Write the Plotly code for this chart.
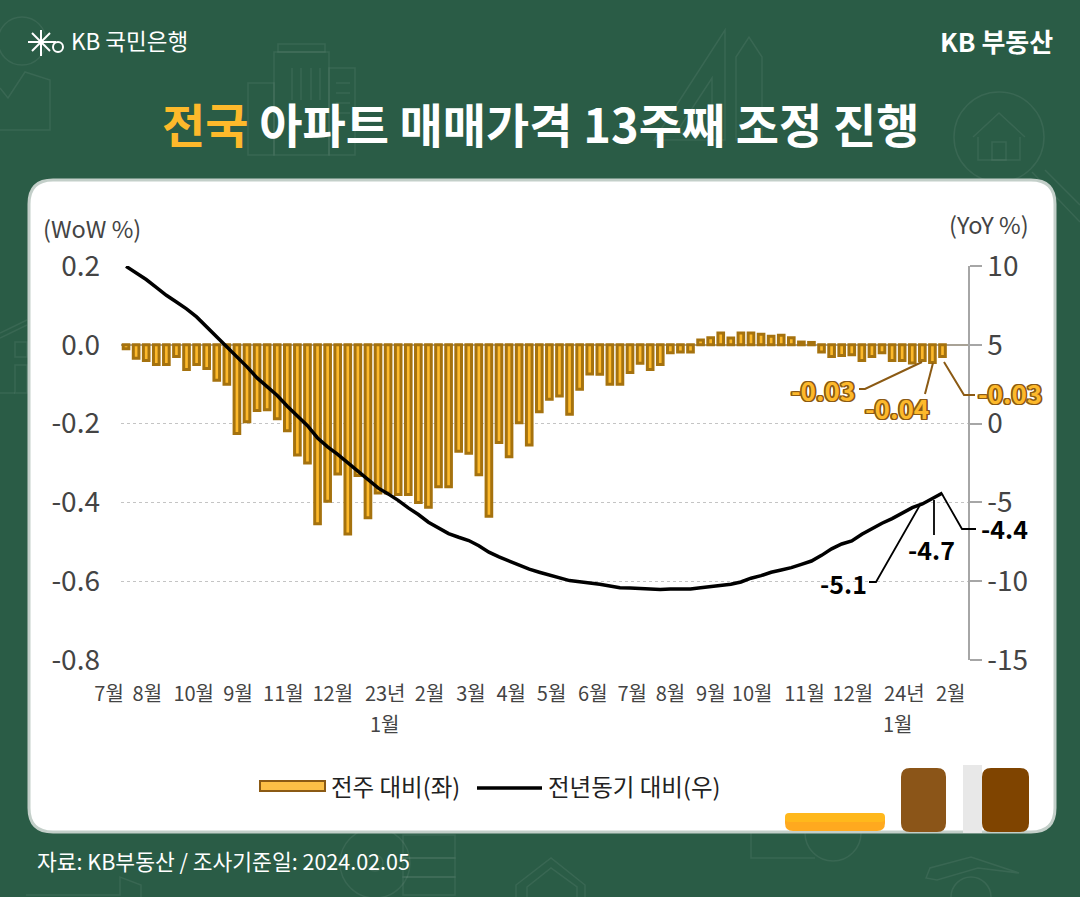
import plotly.graph_objects as go

W, H = 1080, 897
FONT = "Noto Sans CJK KR"

# weekly change (left axis)
wow = [-0.01, -0.034, -0.04, -0.05, -0.05, -0.03, -0.063, -0.05, -0.06, -0.09,
       -0.10, -0.225, -0.195, -0.167, -0.165, -0.188, -0.218, -0.28, -0.30, -0.454,
       -0.397, -0.328, -0.48, -0.332, -0.439, -0.376, -0.376, -0.38, -0.38, -0.40,
       -0.412, -0.36, -0.36, -0.27, -0.275, -0.33, -0.435, -0.248, -0.284, -0.198,
       -0.254, -0.17, -0.138, -0.13, -0.176, -0.113, -0.074, -0.075, -0.10, -0.10,
       -0.07, -0.047, -0.063, -0.05, -0.02, -0.018, -0.018, 0.012, 0.018, 0.03,
       0.017, 0.03, 0.03, 0.027, 0.022, 0.024, 0.018, 0.007, 0.006, -0.018,
       -0.03, -0.027, -0.025, -0.04, -0.03, -0.02, -0.04, -0.04, -0.046, -0.04,
       -0.045, -0.03]

# year on year change (right axis)
yoy = [9.98, 9.56, 9.14, 8.65, 8.14, 7.72, 7.28, 6.77, 6.13, 5.54,
       4.84, 4.21, 3.6, 2.9, 2.37, 1.78, 1.1, 0.47, -0.13, -0.91,
       -1.48, -1.95, -2.5, -3.0, -3.55, -4.08, -4.46, -4.87, -5.35, -5.77,
       -6.26, -6.64, -6.98, -7.21, -7.42, -7.75, -8.16, -8.46, -8.74, -8.99,
       -9.24, -9.43, -9.62, -9.79, -9.96, -10.03, -10.09, -10.19, -10.30, -10.41,
       -10.43, -10.47, -10.49, -10.53, -10.49, -10.49, -10.49, -10.41, -10.34, -10.28,
       -10.19, -10.05, -9.81, -9.65, -9.43, -9.29, -9.14, -8.93, -8.72, -8.36,
       -7.95, -7.64, -7.45, -7.02, -6.66, -6.32, -6.03, -5.69, -5.33, -5.10,
       -4.75, -4.40]

weeks = list(range(len(wow)))

month_labels = ["7월", "8월", "10월", "9월", "11월", "12월", "23년", "2월", "3월", "4월",
                "5월", "6월", "7월", "8월", "9월", "10월", "11월", "12월", "24년", "2월"]
month_weeks = [0, 3.8, 8.4, 12.8, 17.3, 22.2, 27.4, 31.8, 35.9, 39.9,
               43.9, 48, 51.9, 55.7, 59.7, 63.8, 69, 73.8, 78.9, 83.5]

left_ticks = [0.2, 0.0, -0.2, -0.4, -0.6, -0.8]
left_labels = ["0.2", "0.0", "-0.2", "-0.4", "-0.6", "-0.8"]
right_ticks = [10, 5, 0, -5, -10, -15]
right_labels = ["10", "5", "0", "-5", "-10", "-15"]

BG = "#2A5C46"
GOLD = "#FDB92B"
BAR_EDGE = "#A5720E"
BROWN = "#8B5A14"
ICON = "rgba(255,255,255,0.07)"
GREY_TEXT = "#444444"


def px(x):
    return x / W


def py(y):
    return 1 - y / H


def poly(points, closed=False):
    # svg path from pixel points, y measured from the top
    d = "M" + " L".join(f"{px(x):.5f},{py(y):.5f}" for x, y in points)
    return d + (" Z" if closed else "")


def round_rect(x0, y0, x1, y1, r):
    # rounded corners in pixels, paper coordinates keep the arcs right
    rx, ry = px(r), r / H
    a, b, c, d = px(x0), py(y0), px(x1), py(y1)
    return (f"M{a + rx:.5f},{b:.5f} L{c - rx:.5f},{b:.5f} Q{c:.5f},{b:.5f} {c:.5f},{b - ry:.5f} "
            f"L{c:.5f},{d + ry:.5f} Q{c:.5f},{d:.5f} {c - rx:.5f},{d:.5f} "
            f"L{a + rx:.5f},{d:.5f} Q{a:.5f},{d:.5f} {a:.5f},{d + ry:.5f} "
            f"L{a:.5f},{b - ry:.5f} Q{a:.5f},{b:.5f} {a + rx:.5f},{b:.5f} Z")


shapes = []


def add_path(d, color=ICON, width=1.5, fill=None, layer="below"):
    s = dict(type="path", path=d, xref="paper", yref="paper", layer=layer,
             line=dict(color=color, width=width))
    if fill:
        s["fillcolor"] = fill
    shapes.append(s)


def add_circle(cx, cy, r, color=ICON, width=1.5):
    shapes.append(dict(type="circle", xref="paper", yref="paper", layer="below",
                       x0=px(cx - r), x1=px(cx + r), y0=py(cy + r), y1=py(cy - r),
                       line=dict(color=color, width=width)))


def add_box(x0, y0, x1, y1):
    add_path(poly([(x0, y0), (x1, y0), (x1, y1), (x0, y1)], True))


# faint background icons
add_circle(22, 41, 24)
add_path(poly([(0, 88), (8, 98), (25, 72), (50, 80), (50, 130), (0, 130)]))
add_box(274, 52, 329, 155)
add_box(278, 44, 325, 52)
add_box(248, 83, 274, 155)
add_box(329, 68, 355, 155)
for wx in (292, 301, 311, 320):
    add_path(poly([(wx, 68), (wx, 100)]))
for wy in (83, 93, 103, 113):
    add_path(poly([(336, wy), (350, wy)]))
add_path(poly([(725, 30), (725, 140), (654, 140)], True))
add_path(poly([(712, 78), (712, 133), (676, 133)], True))
add_path(poly([(736, 140), (736, 57), (749, 37), (762, 57), (762, 140)], True))
add_circle(999, 137, 45)
add_path(poly([(973, 137), (999, 113), (1025, 137)]))
add_path(poly([(978, 137), (978, 160), (1020, 160), (1020, 137)]))
add_box(992, 142, 1006, 160)
add_path(poly([(1032, 172), (1080, 222)]))
add_path(poly([(1045, 170), (1080, 205)]))
add_path(poly([(0, 333), (27, 320)]))
add_path(poly([(0, 338), (27, 325)]))
add_box(15, 342, 27, 357)
add_box(15, 365, 27, 393)
add_path(poly([(0, 393), (15, 393)]))
add_circle(375, 863, 35)
add_circle(375, 863, 8)
add_box(403, 835, 455, 858)
add_box(403, 858, 455, 877)
add_box(403, 877, 455, 895)
add_circle(833, 833, 28)
add_path(poly([(751, 820), (751, 858), (815, 858)]))
add_path(poly([(516, 897), (516, 885), (551, 858), (585, 885), (585, 897)]))
add_path(poly([(527, 897), (527, 887), (551, 868), (577, 887), (577, 897)]))
add_path(poly([(926, 878), (930, 868), (971, 857), (1019, 873), (978, 868), (937, 880)], True))
add_circle(971, 897, 20)
add_path(poly([(26, 895), (120, 895), (120, 877), (141, 885), (141, 897)]))

# white card
add_path(round_rect(29, 180, 1055, 832, 24), color="#C3CFC9", width=3, fill="#FFFFFF")

# orange and brown blocks at the bottom right of the card
add_path(round_rect(785, 813, 885, 831, 8), color="#FFA91F", width=0, fill="#FFA91F")
add_path(round_rect(785, 813, 885, 822, 4), color="#FFB81C", width=0, fill="#FFB81C")
add_path(round_rect(901, 768, 946, 832, 9), color="#8B5518", width=0, fill="#8B5518")
add_path(poly([(963, 765), (982, 765), (982, 833), (963, 833)], True), color="#E8E8E8", width=0, fill="#E8E8E8")
add_path(round_rect(982, 768, 1029, 832, 9), color="#7F4400", width=0, fill="#7F4400")

# legend
add_path(poly([(260, 781), (325, 781), (325, 791), (260, 791)], True), color=BROWN, width=2, fill="#FCBF46")
add_path(poly([(477, 788), (542, 788)]), color="#000000", width=3.5)

# leader lines
add_path(poly([(859, 389), (865, 389), (922, 362)]), color=BROWN, width=2, layer="above")
add_path(poly([(925, 394), (933, 363)]), color=BROWN, width=2, layer="above")
add_path(poly([(944, 362), (964, 395), (975, 395)]), color=BROWN, width=2, layer="above")
add_path(poly([(869, 582), (876, 582), (920, 505)]), color="#000000", width=1.8, layer="above")
add_path(poly([(934, 500), (934, 535)]), color="#000000", width=1.8, layer="above")
add_path(poly([(942, 494), (962, 529), (976, 529)]), color="#000000", width=1.8, layer="above")

# logo star
for a, b in [((28, 42), (56, 42)), ((32, 33), (50, 51)), ((32, 51), (50, 33)), ((41, 30), (41, 56))]:
    add_path(poly([a, b]), color="#FFFFFF", width=2, layer="above")
add_circle(58, 47, 5, color="#FFFFFF", width=2)
shapes[-1]["layer"] = "above"

annotations = []


def label(text, x, y, size, color="#FFFFFF", anchor="center", **font):
    annotations.append(dict(text=text, x=px(x), y=py(y), xref="paper", yref="paper",
                            xanchor=anchor, yanchor="middle", showarrow=False,
                            font=dict(family=FONT, size=size, color=color, **font)))


outline = ",".join(f"{dx}px {dy}px 0 {BROWN}" for dx in (-1.4, 0, 1.4) for dy in (-1.4, 0, 1.4))

label("KB 국민은행", 69, 40, 22.5, anchor="left")
label("<b>KB 부동산</b>", 1055, 40, 26, anchor="right")
label(f"<b><span style='color:{GOLD}'>전국</span> 아파트 매매가격 13주째 조정 진행</b>", 540, 122, 47)
label("(WoW %)", 92, 228, 23.5, GREY_TEXT)
label("(YoY %)", 989, 224, 23.5, GREY_TEXT)
label("1월", 385, 723, 20, GREY_TEXT)
label("1월", 898, 723, 20, GREY_TEXT)
label("전주 대비(좌)", 329, 786, 23.5, "#222222", anchor="left")
label("전년동기 대비(우)", 546, 786, 23.5, "#222222", anchor="left")
label("자료: KB부동산 / 조사기준일: 2024.02.05", 35, 860, 21.5, anchor="left")
label("<b>-0.03</b>", 823, 389, 26, GOLD, shadow=outline)
label("<b>-0.04</b>", 897, 407, 26, GOLD, shadow=outline)
label("<b>-0.03</b>", 1010, 393, 26, GOLD, shadow=outline)
label("<b>-5.1</b>", 843, 583, 25, "#000000")
label("<b>-4.7</b>", 931, 549, 25, "#000000")
label("<b>-4.4</b>", 1004, 528, 25, "#000000")

fig = go.Figure()
fig.add_trace(go.Bar(x=weeks, y=wow, name="전주 대비(좌)", width=0.56,
                     marker=dict(color=GOLD, line=dict(color=BAR_EDGE, width=3))))
fig.add_trace(go.Scatter(x=weeks, y=yoy, name="전년동기 대비(우)", mode="lines", yaxis="y2",
                         line=dict(color="#000000", width=3.5)))

fig.update_layout(
    width=W, height=H,
    margin=dict(l=0, r=0, t=0, b=0, autoexpand=False),
    paper_bgcolor=BG,
    plot_bgcolor="rgba(0,0,0,0)",
    showlegend=False,
    bargap=0.3,
    font=dict(family=FONT),
    shapes=shapes,
    annotations=annotations,
    xaxis=dict(
        domain=[px(121), px(968)],
        range=[-0.5, 83.53],
        automargin=False,
        tickmode="array", tickvals=month_weeks, ticktext=month_labels,
        ticklabelshift=-17, ticklabelstandoff=20,
        tickfont=dict(family=FONT, size=20, color=GREY_TEXT),
        showgrid=False, zeroline=False, showline=False, ticks="",
        fixedrange=True,
    ),
    yaxis=dict(
        domain=[py(660), py(266)],
        range=[-0.8, 0.2],
        automargin=False,
        tickmode="array", tickvals=left_ticks, ticktext=left_labels,
        ticklabelstandoff=20,
        tickfont=dict(family=FONT, size=28, color=GREY_TEXT),
        showgrid=True, gridcolor="#C4C4C4", griddash="dot", gridwidth=1,
        zeroline=True, zerolinecolor="#A8A296", zerolinewidth=1.5,
        showline=False, ticks="",
        fixedrange=True,
    ),
    yaxis2=dict(
        overlaying="y", side="right", anchor="x",
        range=[-15, 10],
        automargin=False,
        tickmode="array", tickvals=right_ticks, ticktext=right_labels,
        tickfont=dict(family=FONT, size=28, color=GREY_TEXT),
        showgrid=False, zeroline=False,
        showline=True, linecolor="#A6A6A6", linewidth=1.5,
        ticks="outside", ticklen=12, tickcolor="#A6A6A6", tickwidth=1.5,
        fixedrange=True,
    ),
)

fig.write_html("out.html", config=dict(displayModeBar=False),
               post_script="document.body.style.margin='0';document.body.style.overflow='hidden';")
